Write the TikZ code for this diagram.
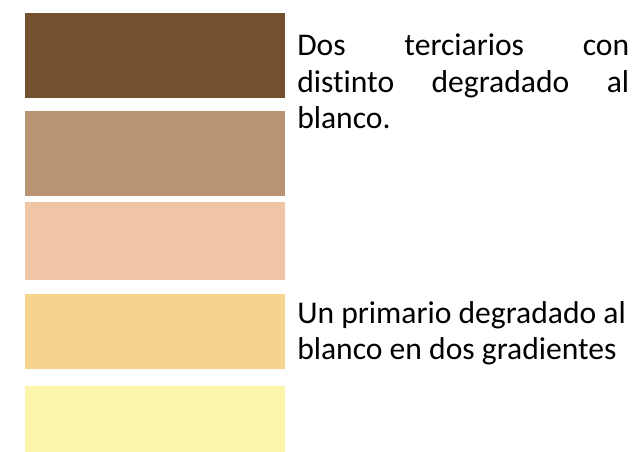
\documentclass[tikz,border=0pt]{standalone}
\usepackage{fontspec}
\setmainfont{Carlito}[Ligatures=NoCommon]
\usepackage{xcolor}
\usepackage{tikz}
\usetikzlibrary{positioning}

\definecolor{tercA}{HTML}{74512E}
\definecolor{tercB}{HTML}{B89374}
\definecolor{tercC}{HTML}{F0C5A5}
\definecolor{primA}{HTML}{F6D48D}
\definecolor{primB}{HTML}{FAF5AA}

\begin{document}
\begin{tikzpicture}[
    x=0.75pt, y=-0.75pt,
    swatch/.style={rectangle, inner sep=0pt, outer sep=0pt, anchor=north west,
      minimum width=195pt},
    note/.style={inner sep=0pt, anchor=base west,
      font=\fontsize{23.7}{27.4}\selectfont}
]
\useasboundingbox (0,0) rectangle (635,452);

% swatches
\node[swatch, fill=tercA, minimum height=63.5pt] (brown) at (25,13) {};
\node[swatch, fill=tercB, minimum height=63.5pt] (tan) at (25,111) {};
\node[swatch, fill=tercC, minimum height=58.5pt] (peach) at (25,202) {};
\node[swatch, fill=primA, minimum height=56pt] (amber) at (25,294) {};
\node[swatch, fill=primB, minimum height=50pt] (cream) at (25,386) {};

% texts
\node[note] (terciarios) at (297,55.7) {\parbox[t]{249pt}{Dos terciarios con\linebreak distinto degradado al\linebreak blanco.}};
\node[note] (primario) at (297,323.3) {\parbox[t]{249pt}{\raggedright Un primario degradado al\\ blanco en dos gradientes}};
\end{tikzpicture}
\end{document}
